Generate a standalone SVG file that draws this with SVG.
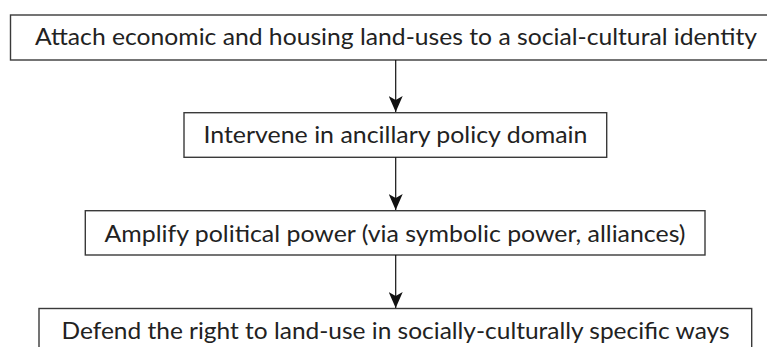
<svg xmlns="http://www.w3.org/2000/svg" width="767" height="347" viewBox="0 0 767 347">
<style>
.box{fill:#fff;stroke:#3a3a3a;stroke-width:1.4}
.lbl{font-family:Lato,"Open Sans","Liberation Sans",sans-serif;font-size:22.5px;fill:#222;text-anchor:middle}
.conn{stroke:#111;stroke-width:1.2;fill:none}
</style>
<defs>
<marker id="ah" markerWidth="16" markerHeight="14" refX="16" refY="7" orient="auto" markerUnits="userSpaceOnUse" viewBox="0 0 16 14">
<path d="M0,0 L16,7 L0,14 L4,7 Z" fill="#111"/>
</marker>
</defs>
<rect width="767" height="347" fill="#fff"/>
<g id="node1"><rect class="box" x="10.5" y="15" width="772" height="45"/><text class="lbl" x="396" y="45" textLength="722" lengthAdjust="spacingAndGlyphs">Attach economic and housing land-uses to a social-cultural identity</text></g>
<g id="node2"><rect class="box" x="184" y="112.7" width="422.7" height="44.6"/><text class="lbl" x="395.5" y="143.3" textLength="384" lengthAdjust="spacingAndGlyphs">Intervene in ancillary policy domain</text></g>
<g id="node3"><rect class="box" x="85.3" y="210.7" width="619.7" height="44.3"/><text class="lbl" x="395" y="241.7" textLength="581" lengthAdjust="spacingAndGlyphs">Amplify political power (via symbolic power, alliances)</text></g>
<g id="node4"><rect class="box" x="39" y="308.5" width="712.7" height="50"/><text class="lbl" x="395.5" y="339" textLength="668" lengthAdjust="spacingAndGlyphs">Defend the right to land-use in socially-culturally specific ways</text></g>
<g id="connectors">
<path class="conn" d="M395.7,60 V112" marker-end="url(#ah)"/>
<path class="conn" d="M395.7,157.3 V210" marker-end="url(#ah)"/>
<path class="conn" d="M395.7,255 V308" marker-end="url(#ah)"/>
</g>
</svg>
